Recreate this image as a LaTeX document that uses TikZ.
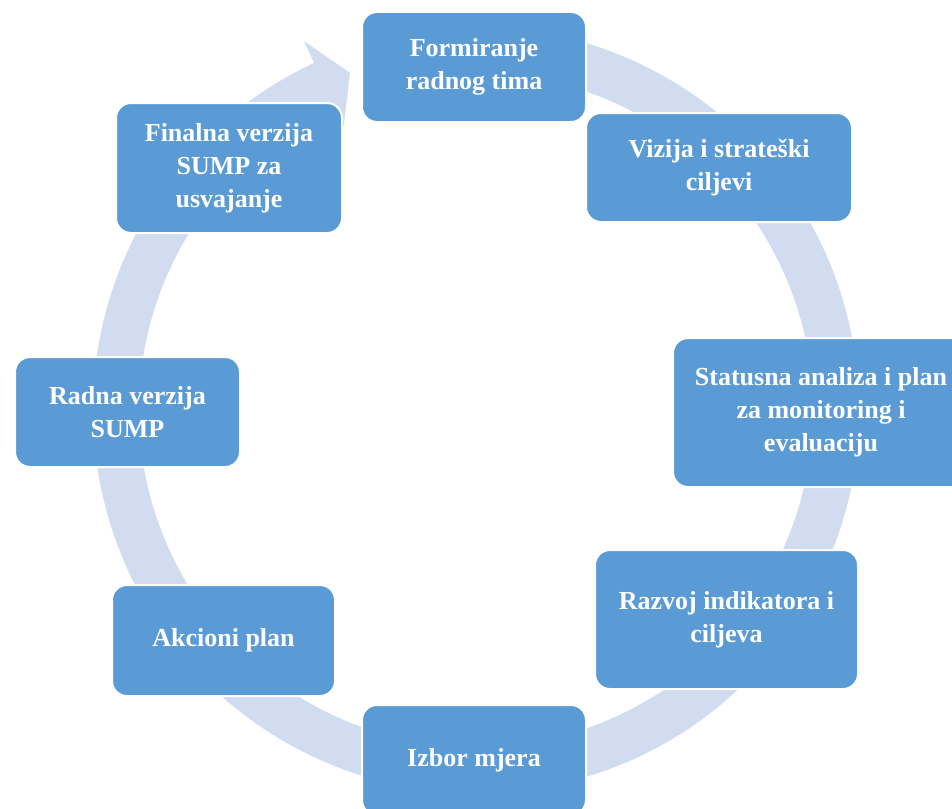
\documentclass[tikz,border=0pt]{standalone}
\usepackage{fontspec}
\setmainfont{Liberation Serif}
\usetikzlibrary{calc}
\definecolor{boxblue}{RGB}{91,155,213}
\definecolor{ringblue}{RGB}{209,220,240}
\begin{document}
\begin{tikzpicture}[x=1pt,y=1pt,
  stagebox/.style={draw=white, line width=2pt, fill=boxblue, rounded corners=15pt,
    text=white, font=\bfseries\fontsize{26}{33}\selectfont, align=center, inner sep=0pt}]
\useasboundingbox (0,0) rectangle (952,-808);
\clip (0,0) rectangle (952,-808);
\coordinate (C) at (476,-410);
\fill[ringblue] ($(C)+(100:383)$) arc[start angle=100, end angle=-245, radius=383]
  -- ($(C)+(115:407)$) -- ($(C)+(110.5:360)$) -- ($(C)+(115:313)$)
  -- ($(C)+(115:337)$) arc[start angle=-245, end angle=100, radius=337] -- cycle;
\node[stagebox, minimum width=224, minimum height=110] (b1) at (474,-67) {Formiranje\\radnog tima};
\node[stagebox, minimum width=266, minimum height=109] (b2) at (719,-167.5) {Vizija i strateški\\ciljevi};
\node[stagebox, minimum width=296, minimum height=149] (b3) at (821,-412.5) {Statusna analiza i plan\\za monitoring i\\evaluaciju};
\node[stagebox, minimum width=263, minimum height=139] (b4) at (726.5,-619.5) {Razvoj indikatora i\\ciljeva};
\node[stagebox, minimum width=224, minimum height=110] (b5) at (474,-760) {Izbor mjera};
\node[stagebox, minimum width=223, minimum height=111] (b6) at (223.5,-640.5) {Akcioni plan};
\node[stagebox, minimum width=225, minimum height=110] (b7) at (127.5,-412) {Radna verzija\\SUMP};
\node[stagebox, minimum width=226, minimum height=130] (b8) at (229,-168) {Finalna verzija\\SUMP za\\usvajanje};
\end{tikzpicture}
\end{document}
